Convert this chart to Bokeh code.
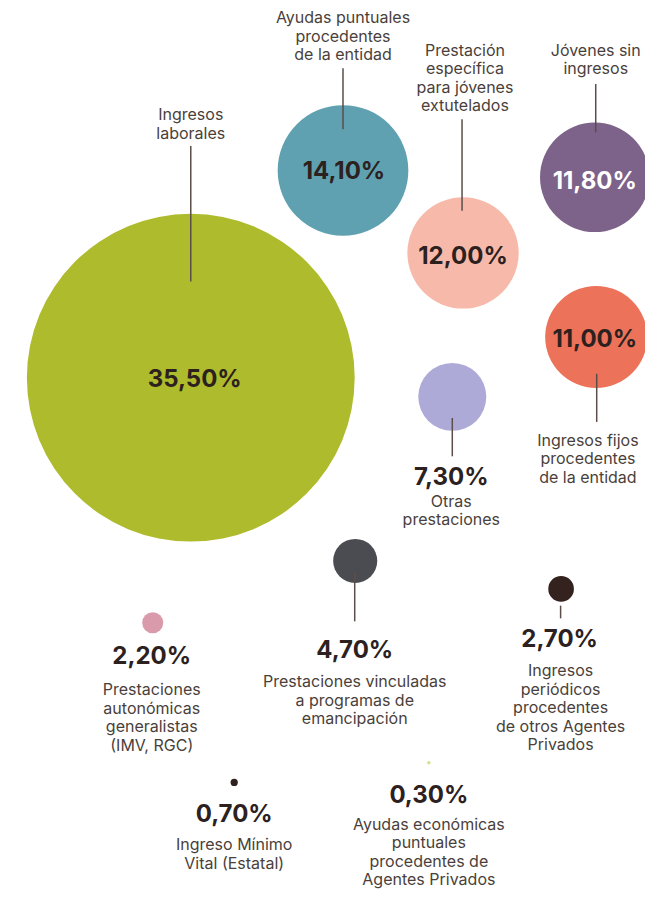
from bokeh.plotting import figure
from bokeh.models import Range1d
from bokeh.embed import file_html
from bokeh.resources import INLINE
from bokeh.core.properties import value

# ---- data ----
categories = [
    "Ingresos\nlaborales",
    "Ayudas puntuales\nprocedentes\nde la entidad",
    "Prestación\nespecífica\npara jóvenes\nextutelados",
    "Jóvenes sin\ningresos",
    "Ingresos fijos\nprocedentes\nde la entidad",
    "Otras\nprestaciones",
    "Prestaciones vinculadas\na programas de\nemancipación",
    "Ingresos\nperiódicos\nprocedentes\nde otros Agentes\nPrivados",
    "Prestaciones\nautonómicas\ngeneralistas\n(IMV, RGC)",
    "Ingreso Mínimo\nVital (Estatal)",
    "Ayudas económicas\npuntuales\nprocedentes de\nAgentes Privados",
]
values = [35.5, 14.1, 12.0, 11.8, 11.0, 7.3, 4.7, 2.7, 2.2, 0.7, 0.3]
colors = ["#AEBB2C", "#5FA1B1", "#F6B9AA", "#7D6289", "#EC7259", "#AEAAD7",
          "#4B4C51", "#33221D", "#D99BAB", "#2F221E", "#D6E08F"]

# ---- layout (coordinates in a 661 x 905 design space) ----
centers_x = [195, 351, 474, 609, 610.5, 463, 363.5, 574.5, 156, 239.5, 439]
centers_y = [384, 173, 257, 180, 342.5, 403.5, 570.5, 599, 633.5, 796, 776]
num_x = [199, 352, 474, 609, 609, 462, 363, 573, 155, 239.5, 439]
num_y = [385, 173, 260, 183, 344, 485, 661, 649, 667, 828, 808]
num_col = ["#2C211E", "#2C211E", "#2C211E", "#FFFFFF", "#2C211E", "#2C211E",
           "#2C211E", "#2C211E", "#2C211E", "#2C211E", "#2C211E"]
lab_x = [195, 351, 476, 610, 602, 462, 363, 574, 155, 239.5, 439]
lab_y = [116, 17, 50, 50, 447, 509, 693, 682, 701, 859, 838]
leaders = [(195, 148, 286), (351, 69, 131), (473, 121, 214), (610, 85, 134),
           (611, 380, 429), (463, 425, 464), (363, 583, 632), (574, 616, 629),
           None, None, None]
LINE_STEP = 18.8

W, H = 645, 889
p = figure(width=W, height=H, output_backend="svg", toolbar_location=None,
           x_range=Range1d(0, 661), y_range=Range1d(905, 0),
           min_border=0, outline_line_color=None, background_fill_color="white",
           border_fill_color="white")
p.axis.visible = False
p.grid.visible = False

radii = [4.72 * v + 0.4 for v in values]
p.circle(x=centers_x, y=centers_y, radius=radii, fill_color=colors,
         line_color=None)

lx, ly0, ly1 = [], [], []
for ld in leaders:
    if ld:
        lx.append(ld[0]); ly0.append(ld[1]); ly1.append(ld[2])
p.segment(x0=lx, y0=ly0, x1=lx, y1=ly1, line_color="#5B4E4A", line_width=1.5)

num_text = [f"{v:.2f}".replace(".", ",") + "%" for v in values]
p.text(x=num_x, y=num_y, text=num_text, text_color=num_col,
       text_font=value("Inter"), text_font_style="bold", text_font_size="24px",
       text_align="center", text_baseline="middle")

tx, ty, tt = [], [], []
for i, cat in enumerate(categories):
    for j, line in enumerate(cat.split("\n")):
        tx.append(lab_x[i]); ty.append(lab_y[i] + j * LINE_STEP); tt.append(line)
p.text(x=tx, y=ty, text=tt, text_color="#4A3F3B", text_font=value("Inter"),
       text_font_size="16px", text_align="center", text_baseline="middle")

open("out.html", "w").write(file_html(p, INLINE))
